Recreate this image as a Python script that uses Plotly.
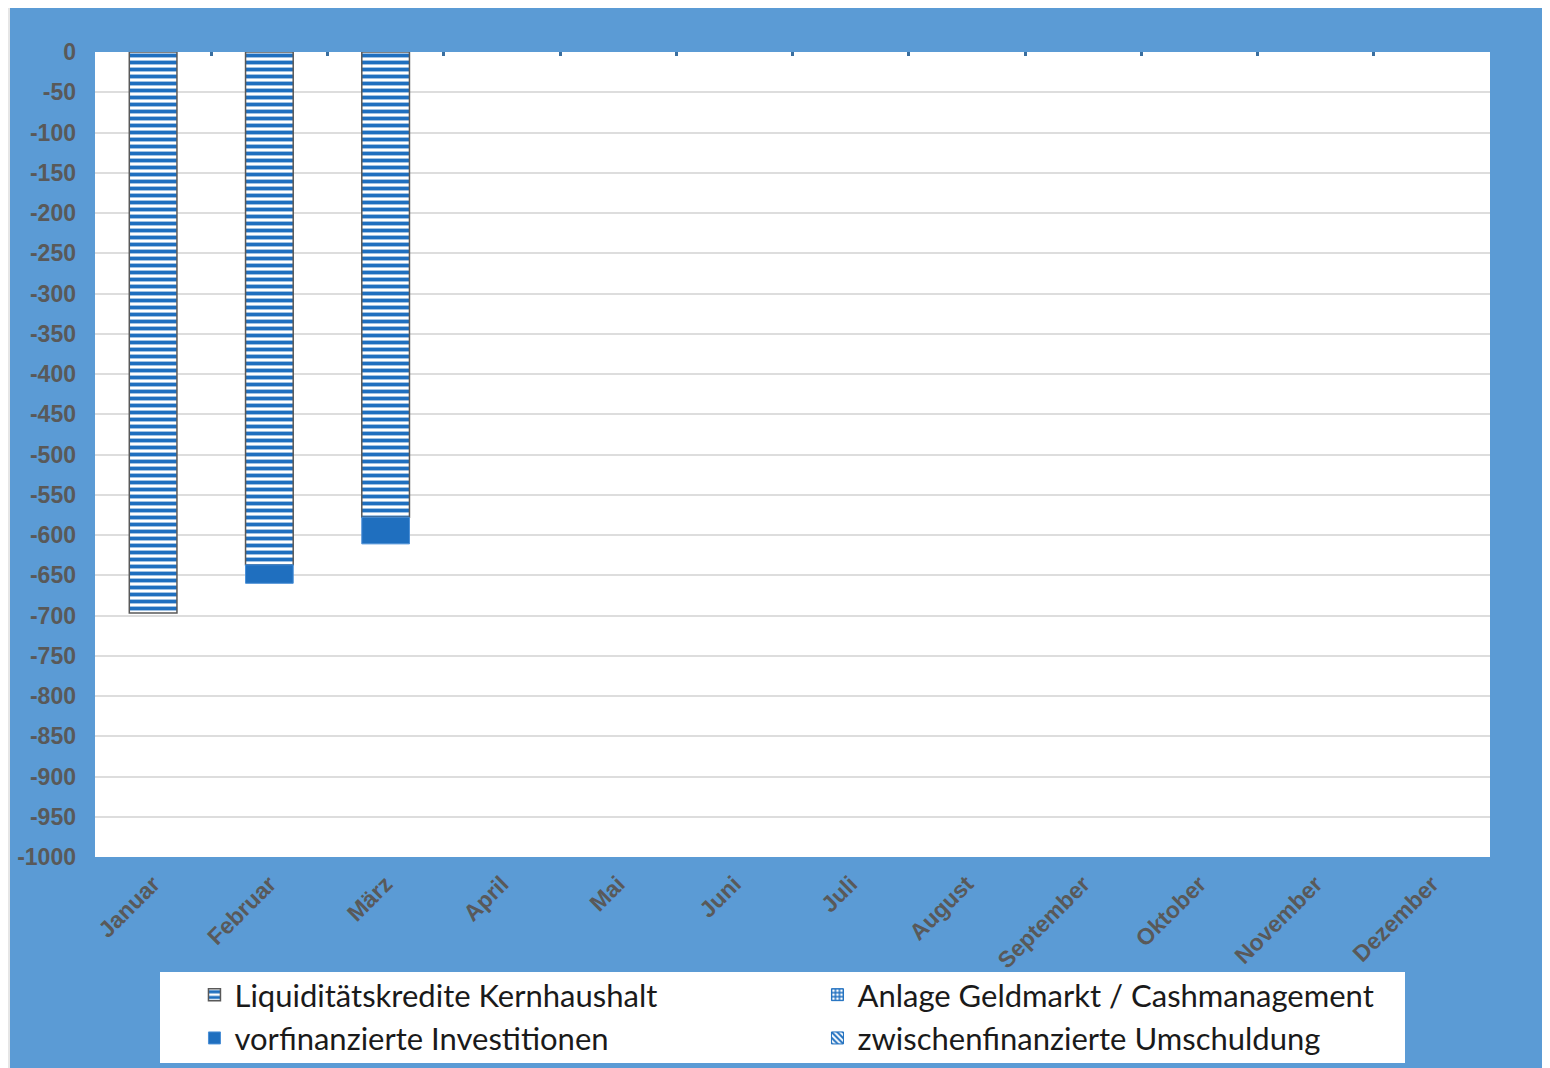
import plotly.graph_objects as go

months = ["Januar", "Februar", "März", "April", "Mai", "Juni", "Juli",
          "August", "September", "Oktober", "November", "Dezember"]
liquiditaet = [-697, -637, -578, None, None, None, None, None, None, None, None, None]
vorfinanziert = [None, -23, -33, None, None, None, None, None, None, None, None, None]
anlage = [None] * 12
umschuldung = [None] * 12
y_tick_vals = list(range(0, -1001, -50))
y_tick_text = [str(v) for v in y_tick_vals]

BLUE_BG = "#5B9BD5"
BAR_BLUE = "#1F6FBF"
GRAY = "#595959"

W, H = 1542, 1060
L, T, R, B = 87, 44, 60, 211
PW, PH = W - L - R, H - T - B


def px_x(p):
    return (p - L) / PW


def px_y(p):
    return 1 - (p - T) / PH


fig = go.Figure()
fig.add_trace(go.Bar(
    name="Liquiditätskredite Kernhaushalt", x=months, y=liquiditaet,
    marker=dict(color="white", line=dict(color=GRAY, width=1.5),
                pattern=dict(shape="-", fgcolor=BAR_BLUE, bgcolor="white",
                             size=7, solidity=0.55, fillmode="replace")),
))
fig.add_trace(go.Bar(
    name="Anlage Geldmarkt / Cashmanagement", x=months, y=anlage,
    marker=dict(color="white", line=dict(color=BAR_BLUE, width=1),
                pattern=dict(shape="+", fgcolor=BAR_BLUE, bgcolor="white",
                             size=5, solidity=0.6, fillmode="replace")),
))
fig.add_trace(go.Bar(
    name="vorfinanzierte Investitionen", x=months, y=vorfinanziert,
    marker=dict(color=BAR_BLUE, line=dict(color="#4A8FD6", width=1)),
))
fig.add_trace(go.Bar(
    name="zwischenfinanzierte Umschuldung", x=months, y=umschuldung,
    marker=dict(color="white", line=dict(color=BAR_BLUE, width=1),
                pattern=dict(shape="\\", fgcolor=BAR_BLUE, bgcolor="white",
                             size=5, solidity=0.5, fillmode="replace")),
))
# top axis carrying the small boundary tick marks
fig.add_trace(go.Bar(x=months, y=[None] * 12, xaxis="x2", showlegend=False,
                     hoverinfo="skip"))

fig.update_layout(
    width=W, height=H,
    barmode="relative", bargap=0.59,
    paper_bgcolor=BLUE_BG, plot_bgcolor="white",
    margin=dict(l=L, r=R, t=T, b=B, autoexpand=False),
    font=dict(family="Liberation Sans, Arial", color=GRAY),
    xaxis=dict(categoryorder="array", categoryarray=months,
               tickangle=-45, showgrid=False, showline=False, ticks="",
               tickfont=dict(size=23, color=GRAY, weight="bold"),
               ticklabelstandoff=8, range=[-0.5, 11.5]),
    xaxis2=dict(overlaying="x", matches="x", side="top", anchor="y",
                categoryorder="array", categoryarray=months,
                ticks="inside", tickson="boundaries", ticklen=4, tickwidth=3,
                tickcolor="#3A6E9E", showticklabels=False, showgrid=False,
                showline=False, range=[-0.5, 11.5]),
    yaxis=dict(range=[-1000, 0], tickvals=y_tick_vals, ticktext=y_tick_text,
               showgrid=True, gridcolor="#DDDDDD", gridwidth=1.5,
               zeroline=False, showline=False, ticks="",
               tickfont=dict(size=23, color=GRAY, weight="bold"),
               ticklabelstandoff=18),
    legend=dict(orientation="h", x=0.0713, y=px_y(960), xanchor="left", yanchor="top",
                bgcolor="rgba(0,0,0,0)", entrywidth=578, entrywidthmode="pixels",
                font=dict(family="Lato, Noto Sans", size=31, color="#1a1a1a"),
                traceorder="normal", tracegroupgap=0, itemwidth=30),
    shapes=[
        dict(type="rect", xref="paper", yref="paper", layer="below",
             x0=px_x(152), x1=px_x(1397), y0=px_y(1055), y1=px_y(964),
             fillcolor="white", line=dict(width=0)),
        dict(type="rect", xref="paper", yref="paper", layer="below",
             x0=px_x(0), x1=px_x(2), y0=px_y(H), y1=px_y(0),
             fillcolor="#E6E6E6", line=dict(width=0)),
    ],
    showlegend=True,
)

fig.write_html("out.html")
